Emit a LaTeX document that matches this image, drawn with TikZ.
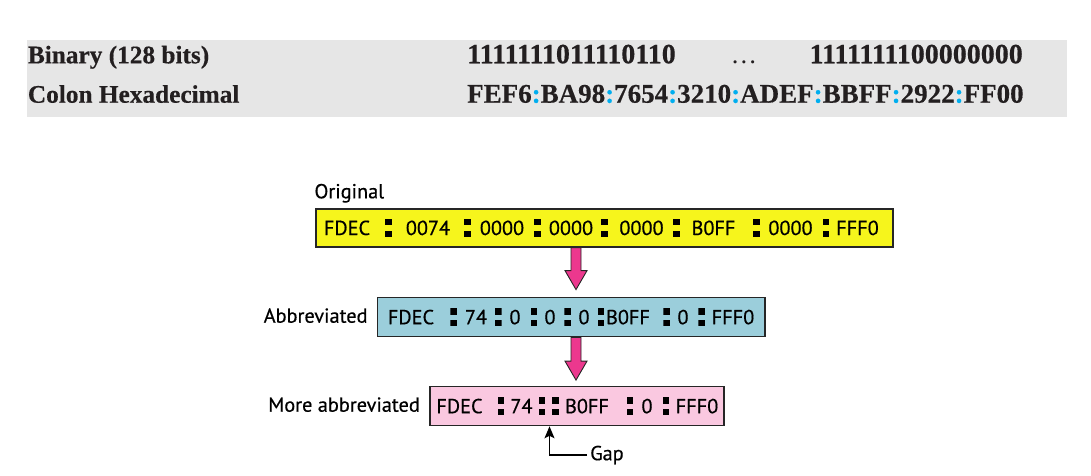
\documentclass[tikz,border=0pt]{standalone}
\usepackage{fontspec}
\setmainfont{Liberation Serif}[BoldFeatures={FakeBold=0.4}]
\newfontfamily\labfont{PT Sans}[FakeBold=0.5]
\usetikzlibrary{calc,arrows.meta}
\definecolor{bandgrey}{RGB}{230,230,230}
\definecolor{inkc}{RGB}{35,31,32}
\definecolor{cyc}{RGB}{0,174,239}
\definecolor{yel}{RGB}{246,245,28}
\definecolor{blu}{RGB}{155,206,219}
\definecolor{pnk}{RGB}{250,200,224}
\definecolor{arrowpink}{RGB}{236,56,142}
\newcommand{\cc}{\textcolor{cyc}{:}}
\begin{document}
\begin{tikzpicture}[x=1pt,y=-1pt,
  band/.style={fill=bandgrey, draw=none, inner sep=0pt},
  toptxt/.style={text=inkc, inner sep=0pt, font=\bfseries\fontsize{#1}{#1}\selectfont},
  lbl/.style={inner sep=0pt, text=black, font=\labfont\fontsize{20.3pt}{24pt}\selectfont},
  tok/.style={lbl, text height=14pt, text depth=0pt},
  colon/.style={inner sep=0pt, minimum width=6.8pt, minimum height=18pt,
    path picture={
      \fill[black] (path picture bounding box.north west) rectangle ([yshift=-6.3pt]path picture bounding box.north east);
      \fill[black] (path picture bounding box.south west) rectangle ([yshift=6.3pt]path picture bounding box.south east);}},
  boxstyle/.style={draw=black!85, line width=1.2pt, inner sep=0pt, minimum height=38pt},
  blockarrow/.style={fill=arrowpink, draw=black!85, line width=0.9pt, line join=miter},
  gapline/.style={draw=black, line width=1.3pt, -{Stealth[length=12pt,width=10pt,inset=2.5pt]}}
]
\useasboundingbox (0,0) rectangle (1091,475);

% ---- top table ----
\node[band, minimum width=1040pt, minimum height=77.3pt] (band) at (546.7,78.65) {};
\node[toptxt=25.3pt, anchor=base west] (binlbl) at (27.7,63.3) {Binary (128 bits)};
\node[toptxt=25.3pt, anchor=base west] (hexlbl) at (27.7,102.7) {Colon Hexadecimal};
\node[toptxt=28pt, anchor=base west] (bin1) at (467,63.3) {1111111011110110};
\node[toptxt=26.2pt, anchor=base] (dots) at (744,63.3) {\mdseries …};
\node[toptxt=28pt, anchor=base east] (bin2) at (1023,63.3) {1111111100000000};
\node[toptxt=27pt, anchor=base west] (hex) at (467,102.7) {FEF6\cc BA98\cc 7654\cc 3210\cc ADEF\cc BBFF\cc 2922\cc FF00};

% ---- boxes ----
\node[boxstyle, fill=yel, minimum width=577pt] (ybox) at (604.5,228) {};
\node[boxstyle, fill=blu, minimum width=387.5pt, minimum height=39pt] (bbox) at (571.2,317.2) {};
\node[boxstyle, fill=pnk, minimum width=294pt, minimum height=39pt] (pbox) at (577,406.2) {};

% ---- labels ----
\node[lbl, anchor=base west] (orig) at (314.3,198.3) {Original};
\node[lbl, anchor=base east] (abbr) at (367.7,322.7) {Abbreviated};
\node[lbl, anchor=base east] (mabbr) at (420,411.7) {More abbreviated};

% ---- yellow contents ----
\foreach \x/\t [count=\i] in {347/FDEC, 428/0074, 502/0000, 571/0000, 641.5/0000, 713.5/B0FF, 790.5/0000, 857.5/FFF0}
  \node[tok] (yt\i) at (\x,228) {\t};
\foreach \x [count=\i] in {388.5, 467.5, 537.5, 604.5, 676.5, 756.5, 826}
  \node[colon] (yc\i) at (\x,228) {};

% ---- blue contents ----
\foreach \x/\t [count=\i] in {411/FDEC, 476/74, 515/0, 550/0, 584/0, 628/B0FF, 683/0, 733/FFF0}
  \node[tok] (bt\i) at (\x,317.2) {\t};
\foreach \x [count=\i] in {453.7, 498.3, 534, 567.7, 601, 666.7, 701.7}
  \node[colon] (bc\i) at (\x,317.2) {};

% ---- pink contents ----
\foreach \x/\t [count=\i] in {459.5/FDEC, 521.5/74, 587/B0FF, 647/0, 697/FFF0}
  \node[tok] (pt\i) at (\x,406.2) {\t};
\foreach \x [count=\i] in {501, 542, 555.5, 630, 666}
  \node[colon] (pc\i) at (\x,406.2) {};

% ---- block arrows ----
\coordinate (ax) at (576,0);
\coordinate (t1) at ($(bbox.north -| ax)+(0,-7.5)$);
\filldraw[blockarrow] ($(ybox.south -| ax)+(-5,0)$) -- ($(t1)+(-5,-19)$) -- ($(t1)+(-11,-19)$) -- (t1)
  -- ($(t1)+(11,-19)$) -- ($(t1)+(5,-19)$) -- ($(ybox.south -| ax)+(5,0)$) -- cycle;
\coordinate (t2) at ($(pbox.north -| ax)+(0,-6)$);
\filldraw[blockarrow] ($(bbox.south -| ax)+(-5,0)$) -- ($(t2)+(-5,-19)$) -- ($(t2)+(-11,-19)$) -- (t2)
  -- ($(t2)+(11,-19)$) -- ($(t2)+(5,-19)$) -- ($(bbox.south -| ax)+(5,0)$) -- cycle;

% ---- gap pointer ----
\coordinate (gx) at (549.5,0);
\node[lbl, anchor=west, inner xsep=3pt] (gap) at (587,455) {Gap};
\draw[gapline] (gap.west) -| (pbox.south -| gx);
\end{tikzpicture}
\end{document}
